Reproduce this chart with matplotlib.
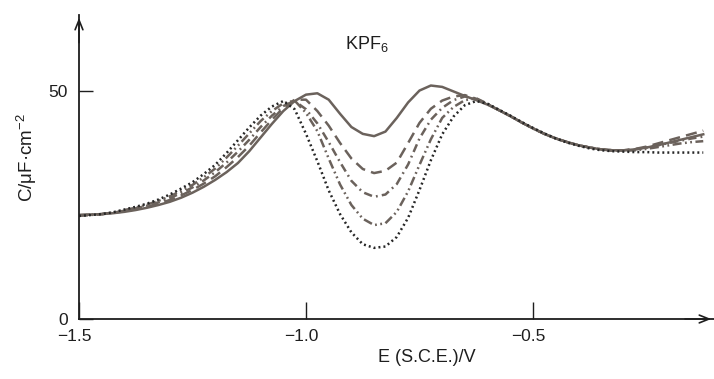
import matplotlib
matplotlib.use('Agg')
import matplotlib.pyplot as plt
from matplotlib.transforms import ScaledTranslation

plt.rcParams['font.family'] = ['Liberation Sans', 'DejaVu Sans']
plt.rcParams['mathtext.fontset'] = 'custom'
plt.rcParams['mathtext.rm'] = 'Liberation Sans'
plt.rcParams['mathtext.default'] = 'rm'
plt.rcParams['lines.scale_dashes'] = False

# electrode potential vs. S.C.E. (V)
potential = [
    -1.500, -1.475, -1.450, -1.425, -1.400, -1.375, -1.350, -1.325, -1.300, -1.275,
    -1.250, -1.225, -1.200, -1.175, -1.150, -1.125, -1.100, -1.075, -1.050, -1.025,
    -1.000, -0.975, -0.950, -0.925, -0.900, -0.875, -0.850, -0.825, -0.800, -0.775,
    -0.750, -0.725, -0.700, -0.675, -0.650, -0.625, -0.600, -0.575, -0.550, -0.525,
    -0.500, -0.475, -0.450, -0.425, -0.400, -0.375, -0.350, -0.325, -0.300, -0.275,
    -0.250, -0.225, -0.200, -0.175, -0.150, -0.125,
]

# differential capacitance (uF/cm2), one curve per concentration
cap_solid = [
    22.8, 22.9, 23.0, 23.2, 23.5, 23.9, 24.4, 25.0, 25.7, 26.6,
    27.7, 29.0, 30.5, 32.2, 34.2, 36.8, 39.8, 42.8, 45.6, 47.8,
    49.2, 49.5, 48.1, 45.0, 42.1, 40.6, 40.1, 41.1, 44.1, 47.5,
    50.1, 51.2, 50.9, 49.9, 48.9, 48.0, 47.0, 45.8, 44.5, 43.1,
    41.8, 40.6, 39.6, 38.8, 38.1, 37.6, 37.2, 37.0, 37.0, 37.2,
    37.6, 38.1, 38.7, 39.3, 39.9, 40.5,
]
cap_dash = [
    22.8, 22.9, 23.0, 23.3, 23.6, 24.1, 24.6, 25.3, 26.1, 27.1,
    28.3, 29.7, 31.3, 33.3, 35.5, 38.0, 40.9, 43.7, 46.3, 48.1,
    48.1, 45.6, 42.4, 38.6, 35.2, 32.9, 32.0, 32.5, 34.3, 38.6,
    43.0, 46.1, 47.9, 48.8, 49.1, 48.3, 47.1, 45.8, 44.5, 43.1,
    41.8, 40.6, 39.6, 38.8, 38.1, 37.6, 37.2, 37.0, 37.0, 37.3,
    37.8, 38.5, 39.2, 39.9, 40.6, 41.3,
]
cap_dashdot = [
    22.7, 22.85, 23.0, 23.3, 23.75, 24.25, 24.85, 25.6, 26.5, 27.6,
    28.85, 30.4, 32.2, 34.3, 36.7, 39.3, 42.1, 44.6, 46.7, 47.8,
    46.0, 42.9, 38.8, 34.4, 30.3, 27.8, 26.8, 27.3, 29.6, 33.9,
    39.6, 43.7, 46.3, 48.0, 48.8, 48.2, 47.1, 45.8, 44.5, 43.1,
    41.8, 40.6, 39.6, 38.8, 38.1, 37.6, 37.2, 37.0, 37.0, 37.2,
    37.6, 38.1, 38.6, 39.1, 39.6, 40.0,
]
cap_dashdotdot = [
    22.65, 22.8, 23.0, 23.35, 23.9, 24.4, 25.1, 25.9, 26.9, 28.1,
    29.4, 31.1, 33.0, 35.4, 38.0, 40.7, 43.4, 45.6, 47.3, 47.9,
    45.2, 41.2, 35.2, 29.5, 25.0, 22.0, 20.6, 21.0, 23.5, 28.0,
    33.8, 39.4, 44.1, 46.5, 48.0, 48.4, 47.2, 45.8, 44.5, 43.1,
    41.8, 40.6, 39.6, 38.8, 38.1, 37.6, 37.2, 36.9, 36.9, 37.0,
    37.3, 37.7, 38.1, 38.5, 38.8, 39.0,
]
cap_dotted = [
    22.6, 22.8, 23.0, 23.4, 24.0, 24.6, 25.3, 26.2, 27.3, 28.6,
    30.0, 31.8, 33.8, 36.4, 39.2, 42.0, 44.6, 46.6, 47.8, 46.0,
    40.6, 34.6, 28.2, 23.0, 19.0, 16.4, 15.6, 15.9, 18.0, 22.2,
    28.3, 34.8, 40.5, 44.4, 46.9, 47.8, 47.2, 45.9, 44.6, 43.2,
    41.9, 40.7, 39.6, 38.7, 38.0, 37.4, 37.0, 36.8, 36.7, 36.6,
    36.6, 36.5, 36.5, 36.5, 36.5, 36.5,
]

x_ticks = [-1.5, -1.0, -0.5]
x_ticklabels = ['\u22121.5', '\u22121.0', '\u22120.5']
y_ticks = [0, 50]
y_ticklabels = ['0', '50']

curve_color = '#6b625c'
axis_color = '#1e1e1e'

fig = plt.figure(figsize=(7.14, 3.79), dpi=100)
ax = fig.add_axes([79 / 714, 60 / 379, 635 / 714, 304 / 379])

line_kw = dict(color=curve_color, lw=1.8, solid_joinstyle='round', dash_joinstyle='round')
ax.plot(potential, cap_solid, ls='-', **line_kw)
ax.plot(potential, cap_dash, ls=(0, (8, 4.5)), **line_kw)
ax.plot(potential, cap_dashdot, ls=(0, (6, 3, 1.3, 3)), **line_kw)
ax.plot(potential, cap_dashdotdot, ls=(0, (6.5, 2.5, 1.3, 2.5, 1.3, 2.5)), **line_kw)
ax.plot(potential, cap_dotted, color='#262626', lw=1.8, ls=(0, (1.4, 2.2)))

ax.set_xlim(-1.5, -1.5 + 635 / 454)
ax.set_ylim(0, 304 / 4.56)

for side in ['top', 'right']:
    ax.spines[side].set_visible(False)
for side in ['left', 'bottom']:
    ax.spines[side].set_linewidth(1.3)
    ax.spines[side].set_color(axis_color)

ax.set_xticks(x_ticks)
ax.set_xticklabels(x_ticklabels)
ax.set_yticks(y_ticks)
ax.set_yticklabels(y_ticklabels)
ax.tick_params(axis='x', direction='in', length=12, width=1.0, pad=7,
               labelsize=12.5, colors=axis_color)
ax.tick_params(axis='y', direction='in', length=10, width=1.0, pad=8,
               labelsize=12.5, colors=axis_color)

# the minus sign hangs left of the digits
shift = ScaledTranslation(-0.05, 0, fig.dpi_scale_trans)
for lab in ax.get_xticklabels():
    lab.set_transform(lab.get_transform() + shift)

# arrow heads on both axes
arrow = dict(arrowstyle='->,head_length=0.7,head_width=0.28', lw=1.2, color=axis_color)
ax.annotate('', xy=(1.0, 0), xytext=(0.95, 0), xycoords='axes fraction',
            arrowprops=arrow, annotation_clip=False)
ax.annotate('', xy=(0, 1.0), xytext=(0, 0.9), xycoords='axes fraction',
            arrowprops=arrow, annotation_clip=False)

fig.text(27 / 714, 1 - 158 / 379, 'C/\u03bcF\u00b7cm$^{-2}$', rotation=90,
         ha='center', va='center', fontsize=13.5, color=axis_color)
fig.text(427 / 714, 1 - 357 / 379, 'E (S.C.E.)/V', ha='center', va='center',
         fontsize=13, color=axis_color)
fig.text(345 / 714, 1 - 49.5 / 379, 'KPF$_6$', ha='left', va='baseline',
         fontsize=13, color=axis_color)

fig.savefig('out.png', dpi=100)
